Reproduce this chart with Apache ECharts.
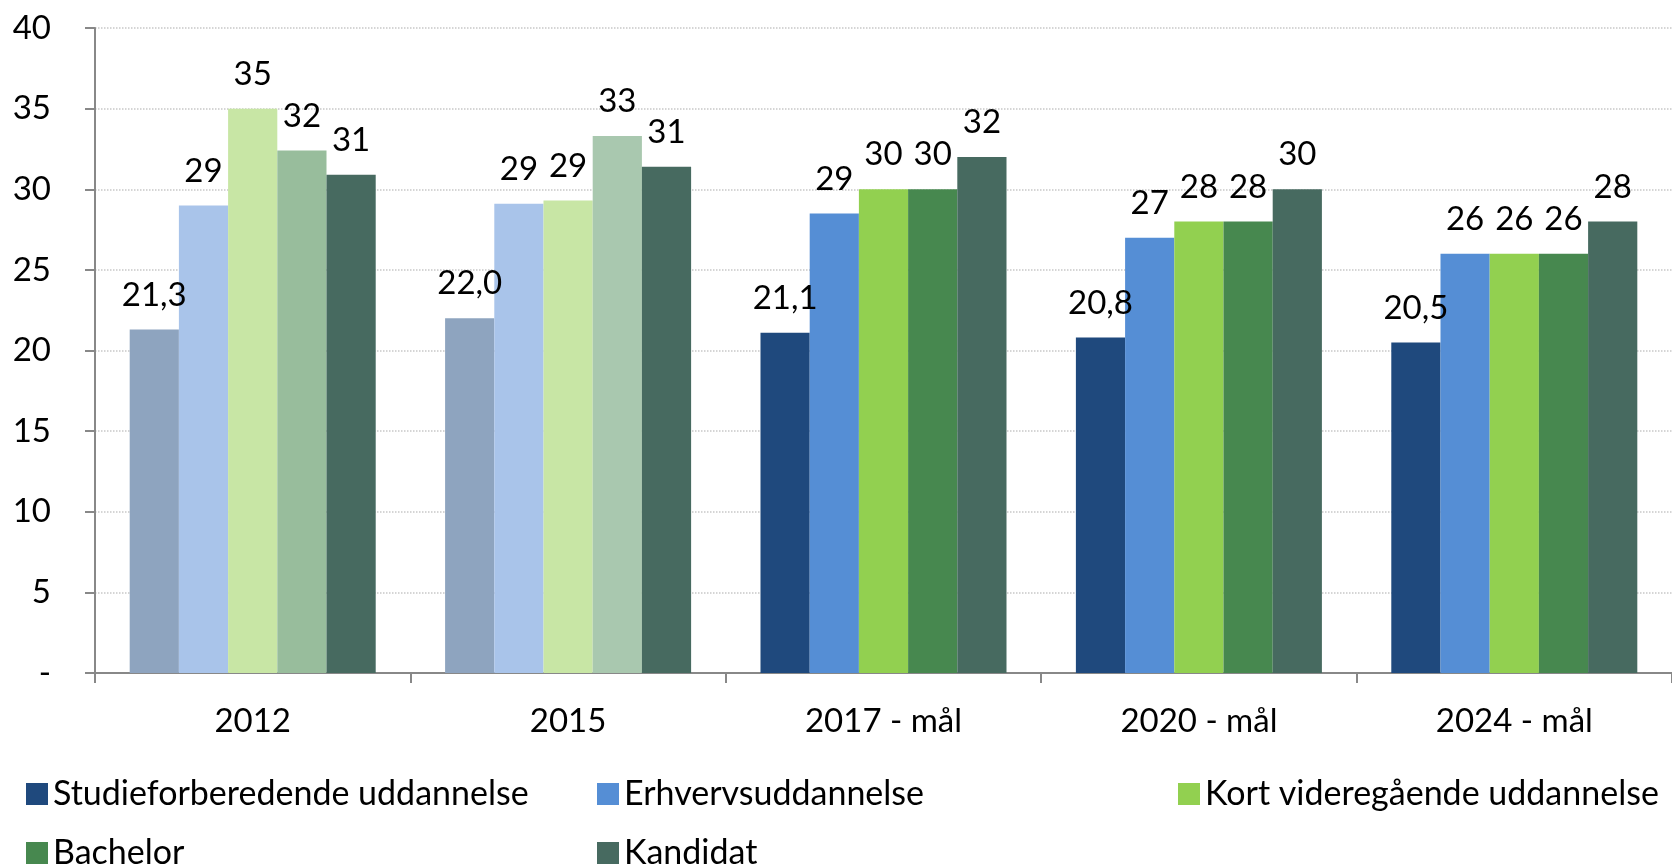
<!DOCTYPE html>
<html>
<head>
<meta charset="utf-8">
<script src="https://cdn.jsdelivr.net/npm/echarts@6/dist/echarts.min.js"></script>
<style>
  html, body { margin: 0; padding: 0; background: #fff; }
  #mainContent { width: 1672px; height: 866px; }
</style>
</head>
<body>
<div id="mainContent"></div>
<script>
var categories = ['2012', '2015', '2017 - mål', '2020 - mål', '2024 - mål'];
var seriesNames = ['Studieforberedende uddannelse', 'Erhvervsuddannelse', 'Kort videregående uddannelse', 'Bachelor', 'Kandidat'];

var studieforberedende = [21.3, 22.0, 21.1, 20.8, 20.5];
var erhverv = [29.0, 29.1, 28.5, 27, 26];
var kortVideregaaende = [35.0, 29.3, 30, 28, 26];
var bachelor = [32.4, 33.3, 30, 28, 26];
var kandidat = [30.9, 31.4, 32, 30, 28];

// farver: [2012, 2015, mål-år]
var colors = [
    ['#8EA4BF', '#8EA4BF', '#1F497D'],
    ['#A9C4EA', '#A9C4EA', '#558ED5'],
    ['#C8E6A5', '#C8E6A5', '#92D050'],
    ['#98BD9C', '#A9C8AF', '#47884F'],
    ['#476A60', '#476A60', '#476A60']
];

var font = 'Lato, "Liberation Sans", sans-serif';
var myChart = echarts.init(document.getElementById('mainContent'));

function makeSeries(idx, values, decimals) {
    return {
        name: seriesNames[idx],
        type: 'bar',
        barGap: 0,
        barCategoryGap: '22%',
        itemStyle: { color: colors[idx][2] },
        data: values.map(function (v, i) {
            var c = i < 2 ? colors[idx][i] : colors[idx][2];
            return { value: v, itemStyle: { color: c } };
        }),
        label: {
            show: true,
            position: 'top',
            distance: 18,
            fontFamily: font,
            fontSize: 33,
            color: '#000',
            formatter: function (p) {
                return decimals ? p.value.toFixed(1).replace('.', ',') : String(Math.round(p.value));
            }
        }
    };
}

// en legend pr. element, så de står i faste kolonner
var legendPos = [[21, 772], [592, 772], [1173, 772], [21, 831], [592, 831]];
var legends = seriesNames.map(function (n, i) {
    return {
        left: legendPos[i][0], top: legendPos[i][1],
        itemWidth: 22, itemHeight: 22, itemGap: 0, icon: 'rect',
        textStyle: { fontFamily: font, fontSize: 34, color: '#000' },
        data: [n]
    };
});

option = {
    backgroundColor: '#fff',
    animation: false,
    grid: { left: 95, right: 0, top: 28, bottom: 193, containLabel: false },
    legend: legends,
    xAxis: {
        type: 'category',
        data: categories,
        axisLine: { lineStyle: { color: '#888', width: 2 } },
        axisTick: { show: true, length: 10, lineStyle: { color: '#888', width: 2 } },
        axisLabel: { fontFamily: font, fontSize: 33, color: '#000', margin: 32 }
    },
    yAxis: {
        type: 'value',
        min: 0,
        max: 40,
        interval: 5,
        axisLine: { show: true, lineStyle: { color: '#888', width: 2 } },
        axisTick: { show: true, length: 10, lineStyle: { color: '#888', width: 2 } },
        splitLine: { lineStyle: { color: '#c8c8c8', type: 'dotted', width: 1.5 } },
        axisLabel: {
            fontFamily: font, fontSize: 33, color: '#000', margin: 44,
            formatter: function (v) { return v === 0 ? '-' : String(v); }
        }
    },
    series: [
        makeSeries(0, studieforberedende, true),
        makeSeries(1, erhverv, false),
        makeSeries(2, kortVideregaaende, false),
        makeSeries(3, bachelor, false),
        makeSeries(4, kandidat, false)
    ]
};

myChart.setOption(option);
</script>
</body>
</html>
